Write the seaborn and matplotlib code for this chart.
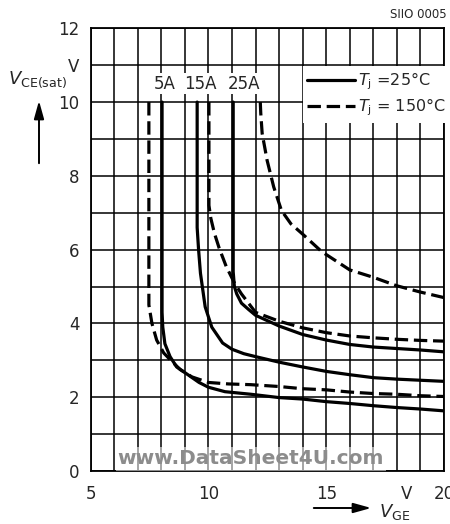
import numpy as np
import pandas as pd
import matplotlib
matplotlib.use("Agg")
import matplotlib.pyplot as plt
from matplotlib.lines import Line2D
import seaborn as sns

# ---- data ----
x_5A_25 = [8.03, 8.03, 8.06, 8.15, 8.37, 8.65, 9.15, 9.6, 10.0, 10.7, 11.8, 13, 14, 15, 16, 17, 18, 19, 20]
y_5A_25 = [10.0, 4.3, 3.9, 3.45, 3.1, 2.82, 2.6, 2.4, 2.27, 2.15, 2.08, 1.99, 1.95, 1.88, 1.83, 1.77, 1.72, 1.68, 1.63]

x_5A_150 = [7.47, 7.47, 7.6, 7.8, 8.1, 8.4, 8.8, 9.3, 10.0, 10.85, 11.8, 13, 14, 15, 16, 17, 18, 19, 20]
y_5A_150 = [10.0, 4.5, 4.0, 3.55, 3.2, 3.0, 2.75, 2.55, 2.4, 2.36, 2.34, 2.29, 2.23, 2.2, 2.14, 2.1, 2.08, 2.04, 2.02]

x_15A_25 = [9.52, 9.52, 9.58, 9.66, 9.86, 10.14, 10.6, 11.0, 11.5, 12, 13, 14, 15, 16, 17, 18, 19, 20]
y_15A_25 = [10.0, 6.6, 6.0, 5.36, 4.45, 3.9, 3.47, 3.3, 3.18, 3.1, 2.95, 2.82, 2.7, 2.61, 2.53, 2.49, 2.46, 2.43]

x_15A_150 = [10.02, 10.02, 10.1, 10.25, 10.45, 10.75, 11.1, 11.4, 11.7, 12.0, 13, 14, 15, 16, 17, 18, 19, 20]
y_15A_150 = [10.0, 7.2, 6.85, 6.45, 6.05, 5.55, 5.1, 4.8, 4.55, 4.3, 4.06, 3.88, 3.75, 3.66, 3.61, 3.57, 3.54, 3.52]

x_25A_25 = [11.05, 11.05, 11.1, 11.2, 11.4, 11.7, 12.0, 13, 14, 15, 16, 17, 18, 19, 20]
y_25A_25 = [10.0, 5.4, 5.0, 4.8, 4.55, 4.38, 4.22, 3.93, 3.7, 3.55, 3.43, 3.36, 3.32, 3.28, 3.23]

x_25A_150 = [12.2, 12.22, 12.28, 12.49, 12.77, 13.1, 13.5, 14.0, 14.8, 16.0, 17.0, 18.0, 19.0, 20.0]
y_25A_150 = [10.0, 9.7, 9.15, 8.42, 7.7, 7.06, 6.7, 6.42, 5.95, 5.45, 5.25, 5.02, 4.85, 4.7]

current_labels = ["5A", "15A", "25A"]
current_label_x = [8.15, 9.65, 11.5]
temp_labels = [r"$T_\mathrm{j}$ =25°C", r"$T_\mathrm{j}$ = 150°C"]

xtick_pos = [5, 10, 15, 18.4, 20]
xtick_lab = ["5", "10", "15", "V", "20"]
ytick_pos = [0, 2, 4, 6, 8, 10, 11, 12]
ytick_lab = ["0", "2", "4", "6", "8", "10", "V", "12"]

curves = [
    ("5A", "25", x_5A_25, y_5A_25),
    ("5A", "150", x_5A_150, y_5A_150),
    ("15A", "25", x_15A_25, y_15A_25),
    ("15A", "150", x_15A_150, y_15A_150),
    ("25A", "25", x_25A_25, y_25A_25),
    ("25A", "150", x_25A_150, y_25A_150),
]
rows = []
for cur, tj, xs, ys in curves:
    for i, (xv, yv) in enumerate(zip(xs, ys)):
        rows.append({"VGE": xv, "VCE": yv, "curve": f"{cur}_{tj}", "Tj": tj, "order": i})
df = pd.DataFrame(rows)

# ---- style ----
sns.set_theme(style="white")
plt.rcParams["font.family"] = ["DejaVu Sans Condensed", "Liberation Sans Narrow", "DejaVu Sans"]
plt.rcParams["mathtext.fontset"] = "dejavusans"

fig = plt.figure(figsize=(4.5, 5.24), dpi=100)
W, H = 450, 524
x0, x1 = 90.7, 444.0
yb, yt = 471.0, 28.3
ax = fig.add_axes([x0 / W, 1 - yb / H, (x1 - x0) / W, (yb - yt) / H])

LW = 2.3
dash = (4.2, 1.8)
sns.lineplot(data=df, x="VGE", y="VCE", units="curve", style="Tj",
             style_order=["25", "150"], dashes={"25": "", "150": dash},
             estimator=None, sort=False, color="black", linewidth=LW,
             legend=False, ax=ax, zorder=3)

ax.set_xlim(5, 20)
ax.set_ylim(0, 12)
ax.set_xlabel("")
ax.set_ylabel("")

# grid every 1 V
ax.set_xticks(np.arange(5, 21, 1), minor=True)
ax.set_yticks(np.arange(0, 13, 1), minor=True)
ax.xaxis.remove_overlapping_locs = False
ax.yaxis.remove_overlapping_locs = False
ax.grid(which="minor", color="black", linewidth=1.1)
ax.grid(which="major", visible=False)
ax.set_xticks(xtick_pos)
ax.set_xticklabels(xtick_lab)
ax.set_yticks(ytick_pos)
ax.set_yticklabels(ytick_lab)
ax.tick_params(which="both", length=0)
ax.tick_params(axis="x", pad=10, labelsize=12)
ax.tick_params(axis="y", pad=8, labelsize=12)
for s in ax.spines.values():
    s.set_color("black")
    s.set_linewidth(1.3)
ax.set_axisbelow(True)

# current labels
for lab, xp in zip(current_labels, current_label_x):
    ax.text(xp, 10.5, lab, ha="center", va="center", fontsize=12,
            bbox=dict(facecolor="white", edgecolor="none", pad=1.0), zorder=4)

# legend
handles = [Line2D([], [], color="black", lw=LW),
           Line2D([], [], color="black", lw=LW, dashes=dash)]
leg = ax.legend(handles, temp_labels, loc="upper left", bbox_to_anchor=(0.6, 0.915),
                frameon=True, fancybox=False, framealpha=1, edgecolor="none",
                facecolor="white", fontsize=11.5, handlelength=3.0, handletextpad=0.15,
                labelspacing=0.25, borderpad=0.3, borderaxespad=0.0)
leg.set_zorder(5)

# watermark
ax.text((251 - x0) / (x1 - x0), (yb - 459) / (yb - yt), "www.DataSheet4U.com",
        transform=ax.transAxes, ha="center", va="center", fontsize=14.5,
        fontweight="bold", color="#8c8c8c", family="DejaVu Sans",
        bbox=dict(facecolor="white", alpha=0.55, edgecolor="none", pad=1.5), zorder=6)

# axis labels with arrows
fig.text(8 / W, 1 - 80 / H, r"$V_{\mathrm{CE(sat)}}$", fontsize=13, ha="left", va="center")
fig.add_artist(plt.Annotation("", xy=(39 / W, 1 - 98 / H), xytext=(39 / W, 1 - 166 / H),
               xycoords="figure fraction", textcoords="figure fraction",
               arrowprops=dict(arrowstyle="-|>,head_length=0.9,head_width=0.25", color="black", lw=1.4)))
fig.text(379 / W, 1 - 512 / H, r"$V_{\mathrm{GE}}$", fontsize=13, ha="left", va="center")
fig.add_artist(plt.Annotation("", xy=(374 / W, 1 - 508 / H), xytext=(311 / W, 1 - 508 / H),
               xycoords="figure fraction", textcoords="figure fraction",
               arrowprops=dict(arrowstyle="-|>,head_length=0.9,head_width=0.25", color="black", lw=1.4)))
fig.text(447 / W, 1 - 15 / H, "SIIO 0005", fontsize=8.5, ha="right", va="center")

fig.savefig("out.png", dpi=100, facecolor="white")
